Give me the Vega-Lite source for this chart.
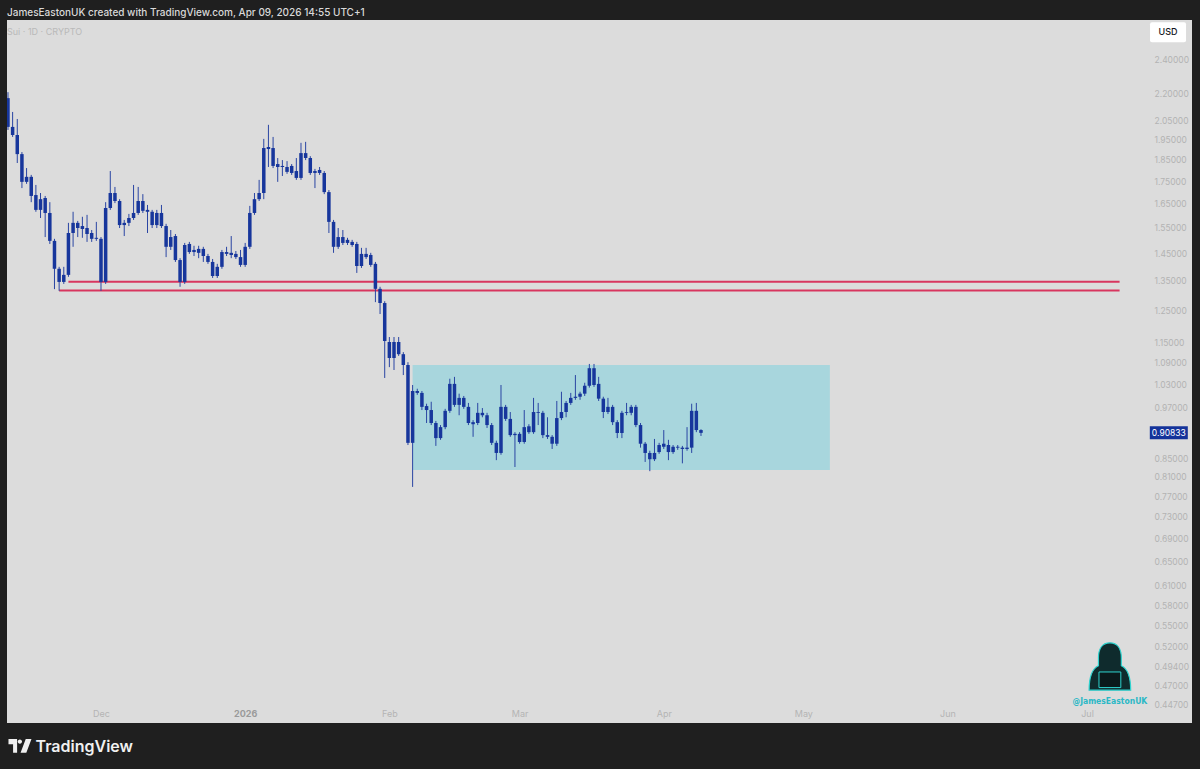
{
"$schema": "https://vega.github.io/schema/vega-lite/v6.json",
"width": 1185, "height": 703,
"autosize": "none",
"padding": {"left": 7, "top": 20, "right": 8, "bottom": 46},
"background": "#1f1f1f",
"config": {"view": {"fill": "#dcdcdc", "stroke": null}, "font": "Inter", "scale": {"continuousPadding": 0}},
"title": {"text": "JamesEastonUK created with TradingView.com, Apr 09, 2026 14:55 UTC+1", "subtitle": "Sui · 1D · CRYPTO", "anchor": "start", "frame": "group", "orient": "top", "offset": -17, "font": "Inter", "fontSize": 10, "fontWeight": 500, "color": "#d9d9d9", "subtitleFont": "Inter", "subtitleFontSize": 9, "subtitleColor": "#b9b9b9", "subtitlePadding": 10},
"datasets": {
"candles": [
{"d":"2025-11-11","o":2.173,"h":2.207,"l":2.000,"c":2.016},
{"d":"2025-11-12","o":2.016,"h":2.096,"l":1.964,"c":1.974},
{"d":"2025-11-13","o":1.974,"h":2.058,"l":1.835,"c":1.878},
{"d":"2025-11-14","o":1.878,"h":1.888,"l":1.719,"c":1.747},
{"d":"2025-11-15","o":1.747,"h":1.811,"l":1.738,"c":1.770},
{"d":"2025-11-16","o":1.770,"h":1.779,"l":1.657,"c":1.684},
{"d":"2025-11-17","o":1.688,"h":1.733,"l":1.616,"c":1.624},
{"d":"2025-11-18","o":1.624,"h":1.697,"l":1.590,"c":1.670},
{"d":"2025-11-19","o":1.675,"h":1.684,"l":1.513,"c":1.611},
{"d":"2025-11-20","o":1.611,"h":1.657,"l":1.486,"c":1.498},
{"d":"2025-11-21","o":1.498,"h":1.506,"l":1.321,"c":1.393},
{"d":"2025-11-22","o":1.393,"h":1.400,"l":1.315,"c":1.346},
{"d":"2025-11-23","o":1.346,"h":1.400,"l":1.339,"c":1.371},
{"d":"2025-11-24","o":1.371,"h":1.570,"l":1.364,"c":1.529},
{"d":"2025-11-25","o":1.529,"h":1.616,"l":1.475,"c":1.570},
{"d":"2025-11-26","o":1.570,"h":1.578,"l":1.513,"c":1.549},
{"d":"2025-11-27","o":1.545,"h":1.595,"l":1.510,"c":1.557},
{"d":"2025-11-28","o":1.549,"h":1.603,"l":1.494,"c":1.525},
{"d":"2025-11-29","o":1.529,"h":1.541,"l":1.494,"c":1.506},
{"d":"2025-11-30","o":1.506,"h":1.574,"l":1.498,"c":1.510},
{"d":"2025-12-01","o":1.506,"h":1.513,"l":1.315,"c":1.346},
{"d":"2025-12-02","o":1.346,"h":1.657,"l":1.339,"c":1.632},
{"d":"2025-12-03","o":1.632,"h":1.797,"l":1.624,"c":1.697},
{"d":"2025-12-04","o":1.697,"h":1.724,"l":1.653,"c":1.662},
{"d":"2025-12-05","o":1.662,"h":1.670,"l":1.549,"c":1.561},
{"d":"2025-12-06","o":1.561,"h":1.582,"l":1.517,"c":1.570},
{"d":"2025-12-07","o":1.570,"h":1.607,"l":1.557,"c":1.590},
{"d":"2025-12-08","o":1.590,"h":1.733,"l":1.582,"c":1.611},
{"d":"2025-12-09","o":1.611,"h":1.724,"l":1.603,"c":1.662},
{"d":"2025-12-10","o":1.662,"h":1.692,"l":1.611,"c":1.620},
{"d":"2025-12-11","o":1.624,"h":1.645,"l":1.529,"c":1.616},
{"d":"2025-12-12","o":1.616,"h":1.624,"l":1.549,"c":1.561},
{"d":"2025-12-13","o":1.561,"h":1.624,"l":1.549,"c":1.611},
{"d":"2025-12-14","o":1.611,"h":1.645,"l":1.549,"c":1.557},
{"d":"2025-12-15","o":1.557,"h":1.566,"l":1.436,"c":1.475},
{"d":"2025-12-16","o":1.475,"h":1.541,"l":1.463,"c":1.513},
{"d":"2025-12-17","o":1.517,"h":1.525,"l":1.418,"c":1.425},
{"d":"2025-12-18","o":1.425,"h":1.432,"l":1.329,"c":1.346},
{"d":"2025-12-19","o":1.346,"h":1.490,"l":1.339,"c":1.482},
{"d":"2025-12-20","o":1.486,"h":1.494,"l":1.448,"c":1.455},
{"d":"2025-12-21","o":1.455,"h":1.479,"l":1.440,"c":1.463},
{"d":"2025-12-22","o":1.467,"h":1.479,"l":1.432,"c":1.452},
{"d":"2025-12-23","o":1.467,"h":1.475,"l":1.418,"c":1.440},
{"d":"2025-12-24","o":1.440,"h":1.448,"l":1.411,"c":1.418},
{"d":"2025-12-25","o":1.418,"h":1.429,"l":1.360,"c":1.367},
{"d":"2025-12-26","o":1.367,"h":1.411,"l":1.360,"c":1.400},
{"d":"2025-12-27","o":1.400,"h":1.463,"l":1.393,"c":1.455},
{"d":"2025-12-28","o":1.455,"h":1.475,"l":1.440,"c":1.448},
{"d":"2025-12-29","o":1.452,"h":1.517,"l":1.432,"c":1.444},
{"d":"2025-12-30","o":1.448,"h":1.459,"l":1.429,"c":1.436},
{"d":"2025-12-31","o":1.436,"h":1.463,"l":1.400,"c":1.407},
{"d":"2026-01-01","o":1.407,"h":1.490,"l":1.400,"c":1.475},
{"d":"2026-01-02","o":1.475,"h":1.641,"l":1.467,"c":1.611},
{"d":"2026-01-03","o":1.611,"h":1.697,"l":1.603,"c":1.670},
{"d":"2026-01-04","o":1.670,"h":1.756,"l":1.662,"c":1.697},
{"d":"2026-01-05","o":1.697,"h":1.954,"l":1.670,"c":1.908},
{"d":"2026-01-06","o":1.903,"h":2.027,"l":1.816,"c":1.913},
{"d":"2026-01-07","o":1.908,"h":1.964,"l":1.811,"c":1.821},
{"d":"2026-01-08","o":1.816,"h":1.859,"l":1.747,"c":1.830},
{"d":"2026-01-09","o":1.821,"h":1.849,"l":1.774,"c":1.816},
{"d":"2026-01-10","o":1.816,"h":1.844,"l":1.784,"c":1.793},
{"d":"2026-01-11","o":1.788,"h":1.830,"l":1.779,"c":1.821},
{"d":"2026-01-12","o":1.797,"h":1.859,"l":1.756,"c":1.765},
{"d":"2026-01-13","o":1.765,"h":1.934,"l":1.756,"c":1.883},
{"d":"2026-01-14","o":1.883,"h":1.939,"l":1.849,"c":1.859},
{"d":"2026-01-15","o":1.859,"h":1.868,"l":1.779,"c":1.788},
{"d":"2026-01-16","o":1.788,"h":1.807,"l":1.719,"c":1.797},
{"d":"2026-01-17","o":1.802,"h":1.816,"l":1.779,"c":1.788},
{"d":"2026-01-18","o":1.788,"h":1.797,"l":1.692,"c":1.701},
{"d":"2026-01-19","o":1.701,"h":1.710,"l":1.529,"c":1.574},
{"d":"2026-01-20","o":1.574,"h":1.582,"l":1.452,"c":1.475},
{"d":"2026-01-21","o":1.475,"h":1.549,"l":1.467,"c":1.513},
{"d":"2026-01-22","o":1.513,"h":1.541,"l":1.482,"c":1.490},
{"d":"2026-01-23","o":1.490,"h":1.510,"l":1.482,"c":1.502},
{"d":"2026-01-24","o":1.494,"h":1.502,"l":1.475,"c":1.482},
{"d":"2026-01-25","o":1.486,"h":1.494,"l":1.378,"c":1.403},
{"d":"2026-01-26","o":1.403,"h":1.471,"l":1.396,"c":1.448},
{"d":"2026-01-27","o":1.448,"h":1.471,"l":1.429,"c":1.436},
{"d":"2026-01-28","o":1.444,"h":1.452,"l":1.400,"c":1.407},
{"d":"2026-01-29","o":1.411,"h":1.418,"l":1.277,"c":1.322},
{"d":"2026-01-30","o":1.322,"h":1.329,"l":1.238,"c":1.274},
{"d":"2026-01-31","o":1.274,"h":1.280,"l":1.048,"c":1.154},
{"d":"2026-02-01","o":1.151,"h":1.166,"l":1.078,"c":1.104},
{"d":"2026-02-02","o":1.104,"h":1.166,"l":1.070,"c":1.151},
{"d":"2026-02-03","o":1.151,"h":1.166,"l":1.110,"c":1.115},
{"d":"2026-02-04","o":1.115,"h":1.121,"l":1.056,"c":1.084},
{"d":"2026-02-05","o":1.084,"h":1.092,"l":0.880,"c":0.885},
{"d":"2026-02-06","o":0.885,"h":1.029,"l":0.789,"c":1.013},
{"d":"2026-02-07","o":1.013,"h":1.019,"l":1.003,"c":1.008},
{"d":"2026-02-08","o":1.008,"h":1.013,"l":0.964,"c":0.972},
{"d":"2026-02-09","o":0.974,"h":0.980,"l":0.932,"c":0.964},
{"d":"2026-02-10","o":0.964,"h":0.985,"l":0.927,"c":0.932},
{"d":"2026-02-11","o":0.932,"h":0.937,"l":0.878,"c":0.896},
{"d":"2026-02-12","o":0.896,"h":0.927,"l":0.892,"c":0.922},
{"d":"2026-02-13","o":0.922,"h":0.967,"l":0.917,"c":0.962},
{"d":"2026-02-14","o":0.962,"h":1.046,"l":0.957,"c":1.032},
{"d":"2026-02-15","o":1.032,"h":1.051,"l":0.972,"c":0.977},
{"d":"2026-02-16","o":0.977,"h":1.006,"l":0.951,"c":0.995},
{"d":"2026-02-17","o":0.995,"h":1.000,"l":0.967,"c":0.972},
{"d":"2026-02-18","o":0.972,"h":0.982,"l":0.927,"c":0.932},
{"d":"2026-02-19","o":0.934,"h":0.939,"l":0.899,"c":0.929},
{"d":"2026-02-20","o":0.932,"h":0.982,"l":0.927,"c":0.957},
{"d":"2026-02-21","o":0.957,"h":0.969,"l":0.946,"c":0.951},
{"d":"2026-02-22","o":0.951,"h":0.957,"l":0.920,"c":0.927},
{"d":"2026-02-23","o":0.927,"h":0.932,"l":0.880,"c":0.885},
{"d":"2026-02-24","o":0.885,"h":0.890,"l":0.846,"c":0.862},
{"d":"2026-02-25","o":0.862,"h":1.029,"l":0.858,"c":0.972},
{"d":"2026-02-26","o":0.972,"h":0.977,"l":0.937,"c":0.942},
{"d":"2026-02-27","o":0.942,"h":0.959,"l":0.899,"c":0.903},
{"d":"2026-02-28","o":0.903,"h":0.910,"l":0.831,"c":0.906},
{"d":"2026-03-01","o":0.906,"h":0.910,"l":0.883,"c":0.887},
{"d":"2026-03-02","o":0.887,"h":0.964,"l":0.883,"c":0.922},
{"d":"2026-03-03","o":0.924,"h":0.929,"l":0.906,"c":0.910},
{"d":"2026-03-04","o":0.910,"h":0.995,"l":0.906,"c":0.959},
{"d":"2026-03-05","o":0.959,"h":0.982,"l":0.927,"c":0.957},
{"d":"2026-03-06","o":0.957,"h":0.962,"l":0.896,"c":0.903},
{"d":"2026-03-07","o":0.903,"h":0.946,"l":0.894,"c":0.899},
{"d":"2026-03-08","o":0.899,"h":0.903,"l":0.871,"c":0.883},
{"d":"2026-03-09","o":0.883,"h":0.987,"l":0.878,"c":0.944},
{"d":"2026-03-10","o":0.944,"h":1.011,"l":0.939,"c":0.959},
{"d":"2026-03-11","o":0.959,"h":0.987,"l":0.946,"c":0.982},
{"d":"2026-03-12","o":0.982,"h":1.008,"l":0.977,"c":0.995},
{"d":"2026-03-13","o":0.995,"h":1.056,"l":0.990,"c":0.998},
{"d":"2026-03-14","o":0.998,"h":1.011,"l":0.990,"c":1.006},
{"d":"2026-03-15","o":1.006,"h":1.035,"l":1.000,"c":1.027},
{"d":"2026-03-16","o":1.027,"h":1.087,"l":1.022,"c":1.075},
{"d":"2026-03-17","o":1.075,"h":1.087,"l":1.024,"c":1.029},
{"d":"2026-03-18","o":1.032,"h":1.051,"l":0.987,"c":0.993},
{"d":"2026-03-19","o":0.993,"h":0.998,"l":0.944,"c":0.959},
{"d":"2026-03-20","o":0.959,"h":0.995,"l":0.954,"c":0.972},
{"d":"2026-03-21","o":0.972,"h":0.977,"l":0.927,"c":0.934},
{"d":"2026-03-22","o":0.934,"h":0.939,"l":0.896,"c":0.908},
{"d":"2026-03-23","o":0.908,"h":0.962,"l":0.896,"c":0.957},
{"d":"2026-03-24","o":0.957,"h":0.982,"l":0.951,"c":0.959},
{"d":"2026-03-25","o":0.957,"h":0.977,"l":0.951,"c":0.972},
{"d":"2026-03-26","o":0.972,"h":0.977,"l":0.922,"c":0.927},
{"d":"2026-03-27","o":0.927,"h":0.932,"l":0.874,"c":0.883},
{"d":"2026-03-28","o":0.883,"h":0.887,"l":0.842,"c":0.862},
{"d":"2026-03-29","o":0.862,"h":0.867,"l":0.822,"c":0.848},
{"d":"2026-03-30","o":0.848,"h":0.894,"l":0.844,"c":0.862},
{"d":"2026-03-31","o":0.864,"h":0.885,"l":0.860,"c":0.880},
{"d":"2026-04-01","o":0.876,"h":0.915,"l":0.871,"c":0.883},
{"d":"2026-04-02","o":0.880,"h":0.892,"l":0.846,"c":0.864},
{"d":"2026-04-03","o":0.864,"h":0.880,"l":0.860,"c":0.876},
{"d":"2026-04-04","o":0.876,"h":0.880,"l":0.869,"c":0.874},
{"d":"2026-04-05","o":0.874,"h":0.878,"l":0.839,"c":0.871},
{"d":"2026-04-06","o":0.871,"h":0.922,"l":0.867,"c":0.874},
{"d":"2026-04-07","o":0.874,"h":0.980,"l":0.862,"c":0.962},
{"d":"2026-04-08","o":0.962,"h":0.982,"l":0.910,"c":0.915},
{"d":"2026-04-09","o":0.915,"h":0.917,"l":0.901,"c":0.90833}
],
"levels": [
{"start":"2025-11-24","end":"2026-07-08","price":1.347},
{"start":"2025-11-22","end":"2026-07-08","price":1.316}
],
"zone": [
{"start":"2026-02-06","end":"2026-05-06T17:00:00Z","top":1.084,"bottom":0.8246}
],
"last": [{"price":0.90833}]
},
"layer": [
{
 "data": {"name": "zone"},
 "mark": {"type": "rect", "fill": "#a8d6dd"},
 "encoding": {
  "x": {"field": "start", "type": "temporal",
        "scale": {"type": "utc", "domain": [1762801200000, 1784814000000], "padding": 0},
        "axis": {"orient": "bottom", "offset": -18, "ticks": false, "domain": false, "grid": false,
                 "values": [1764547200000, 1767225600000, 1769904000000, 1772323200000, 1775001600000, 1777593600000, 1780272000000, 1782864000000],
                 "labelExpr": "utcmonth(datum.value) == 0 ? utcFormat(datum.value, '%Y') : utcFormat(datum.value, '%b')",
                 "labelFont": "Inter", "labelFontSize": 9, "labelPadding": 4,
                 "labelColor": {"condition": {"test": "utcmonth(datum.value) == 0", "value": "#9a9a9a"}, "value": "#b4b4b4"},
                 "labelFontWeight": {"condition": {"test": "utcmonth(datum.value) == 0", "value": "bold"}, "value": "normal"},
                 "labelOverlap": false,
                 "title": "TradingView", "titleAnchor": "start", "titleAlign": "left", "titleBaseline": "middle",
                 "titleX": 28, "titleY": 41, "titleFont": "Inter", "titleFontSize": 16, "titleFontWeight": 600, "titleColor": "#f0f0f0"}},
  "x2": {"field": "end"},
  "y": {"field": "top", "type": "quantitative",
        "scale": {"type": "log", "domain": [0.42648, 2.6636], "nice": false, "zero": false, "padding": 0},
        "axis": {"orient": "right", "offset": -38, "ticks": false, "domain": false, "grid": false,
                 "values": [2.4, 2.2, 2.05, 1.95, 1.85, 1.75, 1.65, 1.55, 1.45, 1.35, 1.25, 1.15, 1.09, 1.03, 0.97, 0.85, 0.81, 0.77, 0.73, 0.69, 0.65, 0.61, 0.58, 0.55, 0.52, 0.494, 0.47, 0.447],
                 "format": ".5f", "labelAlign": "left", "labelPadding": 0, "labelFont": "Inter", "labelFontSize": 8.5,
                 "labelColor": "#b3b3b3", "labelOverlap": false, "title": null}},
  "y2": {"field": "bottom"}
 }
},
{
 "data": {"name": "levels"},
 "mark": {"type": "rule", "color": "#d8365f", "strokeWidth": 2},
 "encoding": {
  "x": {"field": "start", "type": "temporal", "scale": {"type": "utc", "domain": [1762801200000, 1784814000000], "padding": 0}},
  "x2": {"field": "end"},
  "y": {"field": "price", "type": "quantitative", "scale": {"type": "log", "domain": [0.42648, 2.6636], "nice": false, "zero": false, "padding": 0}}
 }
},
{
 "data": {"name": "candles"},
 "mark": {"type": "rule", "color": "#2a45a3", "strokeWidth": 1, "clip": true},
 "encoding": {
  "x": {"field": "d", "type": "temporal", "scale": {"type": "utc", "domain": [1762801200000, 1784814000000], "padding": 0}},
  "y": {"field": "l", "type": "quantitative", "scale": {"type": "log", "domain": [0.42648, 2.6636], "nice": false, "zero": false, "padding": 0}},
  "y2": {"field": "h"}
 }
},
{
 "data": {"name": "candles"},
 "mark": {"type": "bar", "color": "#17369c", "width": 3.5, "clip": true},
 "encoding": {
  "x": {"field": "d", "type": "temporal", "scale": {"type": "utc", "domain": [1762801200000, 1784814000000], "padding": 0}},
  "y": {"field": "o", "type": "quantitative", "scale": {"type": "log", "domain": [0.42648, 2.6636], "nice": false, "zero": false, "padding": 0}},
  "y2": {"field": "c"}
 }
},
{
 "data": {"name": "last"},
 "mark": {"type": "point", "shape": "M-1,-0.342L1,-0.342L1,0.342L-1,0.342Z", "size": 1444, "filled": true, "opacity": 1, "color": "#14339a"},
 "encoding": {
  "x": {"datum": {"year": 2026, "month": 7, "date": 18, "hours": 14, "utc": true}, "type": "temporal", "scale": {"type": "utc", "domain": [1762801200000, 1784814000000], "padding": 0}},
  "y": {"field": "price", "type": "quantitative", "scale": {"type": "log", "domain": [0.42648, 2.6636], "nice": false, "zero": false, "padding": 0}}
 }
},
{
 "data": {"name": "last"},
 "mark": {"type": "text", "color": "#ffffff", "font": "Inter", "fontSize": 8.5, "align": "center", "baseline": "middle"},
 "encoding": {
  "x": {"datum": {"year": 2026, "month": 7, "date": 18, "hours": 14, "utc": true}, "type": "temporal", "scale": {"type": "utc", "domain": [1762801200000, 1784814000000], "padding": 0}},
  "y": {"field": "price", "type": "quantitative", "scale": {"type": "log", "domain": [0.42648, 2.6636], "nice": false, "zero": false, "padding": 0}},
  "text": {"field": "price", "type": "quantitative", "format": ".5f"}
 }
},
{
 "data": {"values": [{}]},
 "mark": {"type": "point", "shape": "M-0.89,-0.556L0.89,-0.556Q1,-0.556 1,-0.445L1,0.445Q1,0.556 0.89,0.556L-0.89,0.556Q-1,0.556 -1,0.445L-1,-0.445Q-1,-0.556 -0.89,-0.556Z", "size": 1296, "filled": true, "opacity": 1, "color": "#ffffff"},
 "encoding": {
  "x": {"datum": {"year": 2026, "month": 7, "date": 18, "hours": 10, "utc": true}, "type": "temporal", "scale": {"type": "utc", "domain": [1762801200000, 1784814000000], "padding": 0}},
  "y": {"datum": 2.58, "type": "quantitative", "scale": {"type": "log", "domain": [0.42648, 2.6636], "nice": false, "zero": false, "padding": 0}}
 }
},
{
 "data": {"values": [{"t": "USD"}]},
 "mark": {"type": "text", "color": "#131722", "font": "Inter", "fontSize": 9, "fontWeight": 500, "align": "center", "baseline": "middle"},
 "encoding": {
  "x": {"datum": {"year": 2026, "month": 7, "date": 18, "hours": 10, "utc": true}, "type": "temporal", "scale": {"type": "utc", "domain": [1762801200000, 1784814000000], "padding": 0}},
  "y": {"datum": 2.58, "type": "quantitative", "scale": {"type": "log", "domain": [0.42648, 2.6636], "nice": false, "zero": false, "padding": 0}},
  "text": {"field": "t"}
 }
},
{
 "data": {"values": [{}]},
 "mark": {"type": "point", "shape": "M0,-1C0.3,-1 0.44,-0.76 0.44,-0.42L0.44,-0.12C0.66,-0.02 0.8,0.3 0.8,0.82L-0.8,0.82C-0.8,0.3 -0.66,-0.02 -0.44,-0.12L-0.44,-0.42C-0.44,-0.76 -0.3,-1 0,-1Z", "size": 2704, "filled": true, "opacity": 1, "fill": "#0f2b2d", "stroke": "#2ed3cf", "strokeWidth": 1.2},
 "encoding": {
  "x": {"datum": {"year": 2026, "month": 7, "date": 5, "hours": 22, "utc": true}, "type": "temporal", "scale": {"type": "utc", "domain": [1762801200000, 1784814000000], "padding": 0}},
  "y": {"datum": 0.4911, "type": "quantitative", "scale": {"type": "log", "domain": [0.42648, 2.6636], "nice": false, "zero": false, "padding": 0}}
 }
},
{
 "data": {"values": [{}]},
 "mark": {"type": "point", "shape": "M-0.42,0.12L0.42,0.12L0.42,0.72L-0.42,0.72Z", "size": 2704, "filled": true, "opacity": 1, "fill": "#0a1a1c", "stroke": "#2ed3cf", "strokeWidth": 1},
 "encoding": {
  "x": {"datum": {"year": 2026, "month": 7, "date": 5, "hours": 22, "utc": true}, "type": "temporal", "scale": {"type": "utc", "domain": [1762801200000, 1784814000000], "padding": 0}},
  "y": {"datum": 0.4911, "type": "quantitative", "scale": {"type": "log", "domain": [0.42648, 2.6636], "nice": false, "zero": false, "padding": 0}}
 }
},
{
 "data": {"values": [{"t": "@JamesEastonUK"}]},
 "mark": {"type": "text", "color": "#2bb8c6", "font": "DejaVu Sans Condensed", "fontSize": 8.5, "fontWeight": "bold", "align": "center", "baseline": "middle"},
 "encoding": {
  "x": {"datum": {"year": 2026, "month": 7, "date": 5, "hours": 22, "utc": true}, "type": "temporal", "scale": {"type": "utc", "domain": [1762801200000, 1784814000000], "padding": 0}},
  "y": {"datum": 0.4521, "type": "quantitative", "scale": {"type": "log", "domain": [0.42648, 2.6636], "nice": false, "zero": false, "padding": 0}},
  "text": {"field": "t"}
 }
},
{
 "data": {"values": [{}]},
 "mark": {"type": "point", "shape": "M-1,-0.6L-0.25,-0.6L-0.25,0.6L-0.6,0.6L-0.6,-0.15L-1,-0.15Z M-0.2,-0.38A0.19,0.19 0 1,0 0.18,-0.38A0.19,0.19 0 1,0 -0.2,-0.38Z M0.5,-0.6L1,-0.6L0.55,0.6L0.05,0.6Z", "size": 529, "filled": true, "opacity": 1, "color": "#f0f0f0"},
 "encoding": {
  "x": {"datum": {"year": 2025, "month": 11, "date": 13, "hours": 14, "utc": true}, "type": "temporal", "scale": {"type": "utc", "domain": [1762801200000, 1784814000000], "padding": 0}},
  "y": {"datum": 0.4017, "type": "quantitative", "scale": {"type": "log", "domain": [0.42648, 2.6636], "nice": false, "zero": false, "padding": 0}}
 }
}
]
}
